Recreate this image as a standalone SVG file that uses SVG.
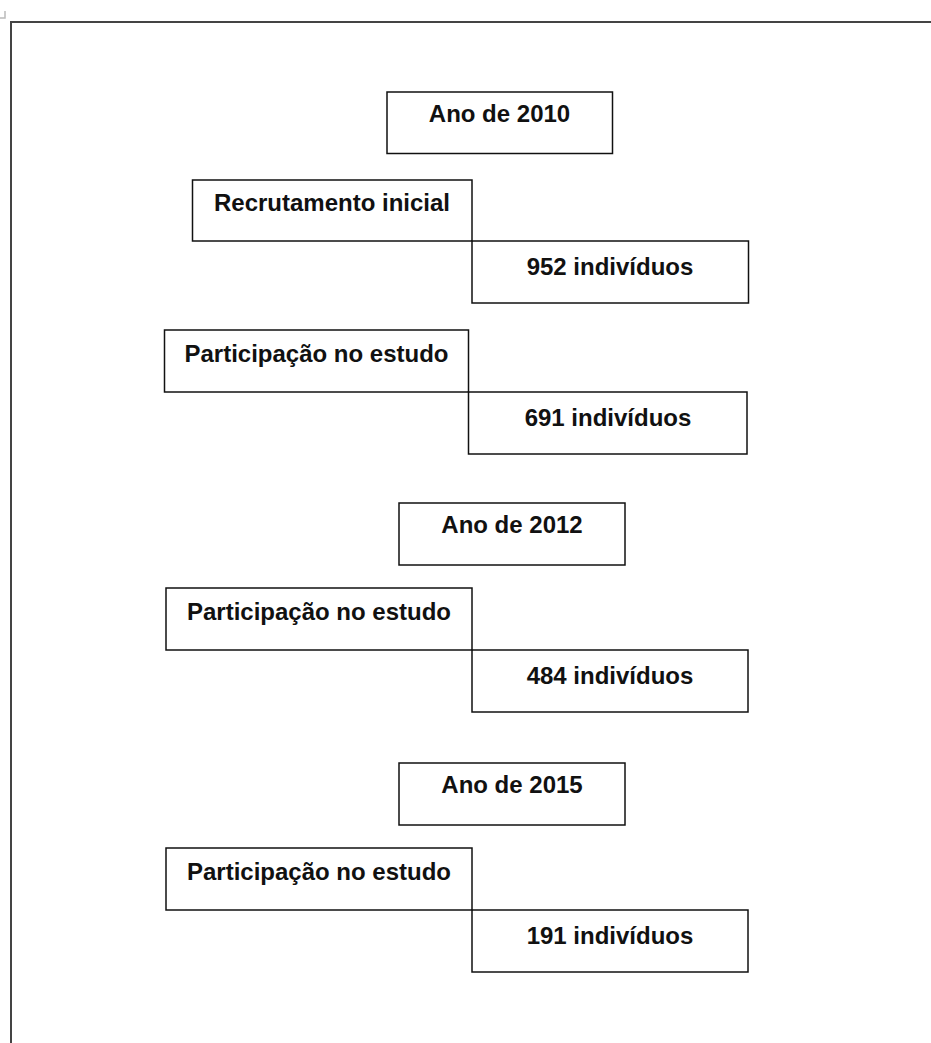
<svg xmlns="http://www.w3.org/2000/svg" width="931" height="1043" viewBox="0 0 931 1043">
<style>
.box{fill:none;stroke:#111;stroke-width:1.5}
.t{font-family:"Liberation Sans",Arial,sans-serif;font-weight:bold;font-size:24px;fill:#111;text-anchor:middle}
.frame{fill:none;stroke:#444;stroke-width:2}
</style>
<rect width="931" height="1043" fill="#fff"/>
<g id="corner"><path d="M5,11 V18 H0" fill="none" stroke="#bbb" stroke-width="1.5"/></g>
<g id="frame"><path class="frame" d="M11,1043 V22 H931"/></g>
<g id="connectors"></g>
<g id="ano2010"><rect class="box" x="387" y="92" width="225.5" height="61.5"/><text class="t" x="499.5" y="122">Ano de 2010</text></g>
<g id="recrutamento"><rect class="box" x="192.5" y="180" width="279.5" height="61"/><text class="t" x="332" y="211">Recrutamento inicial</text></g>
<g id="n952"><rect class="box" x="472" y="241" width="276.5" height="62"/><text class="t" x="610" y="275">952 indivíduos</text></g>
<g id="part1"><rect class="box" x="164.5" y="330" width="304" height="62"/><text class="t" x="316.5" y="362">Participação no estudo</text></g>
<g id="n691"><rect class="box" x="468.5" y="392" width="278.5" height="62"/><text class="t" x="608" y="426">691 indivíduos</text></g>
<g id="ano2012"><rect class="box" x="399" y="503" width="226" height="62"/><text class="t" x="512" y="533">Ano de 2012</text></g>
<g id="part2"><rect class="box" x="166" y="588" width="306" height="62"/><text class="t" x="319" y="620">Participação no estudo</text></g>
<g id="n484"><rect class="box" x="472" y="650" width="276" height="62"/><text class="t" x="610" y="684">484 indivíduos</text></g>
<g id="ano2015"><rect class="box" x="399" y="763" width="226" height="62"/><text class="t" x="512" y="793">Ano de 2015</text></g>
<g id="part3"><rect class="box" x="166" y="848" width="306" height="62"/><text class="t" x="319" y="880">Participação no estudo</text></g>
<g id="n191"><rect class="box" x="472" y="910" width="276" height="62"/><text class="t" x="610" y="944">191 indivíduos</text></g>
</svg>
